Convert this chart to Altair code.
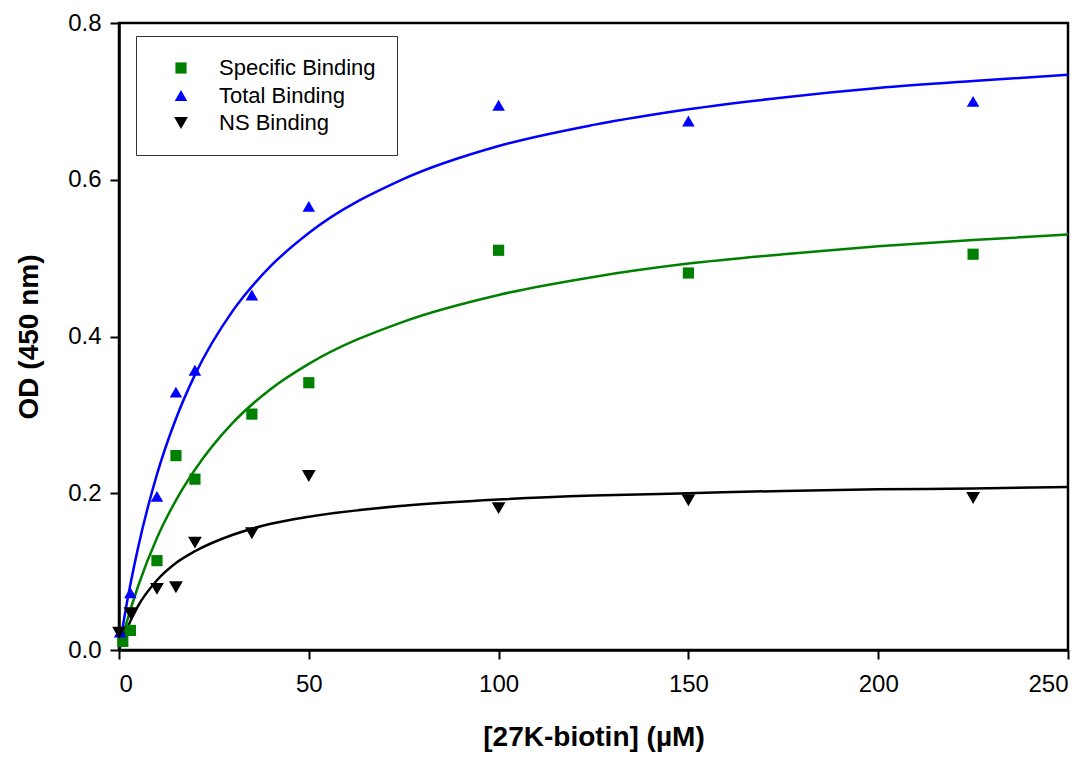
import altair as alt
import pandas as pd

series_names = ["Specific Binding", "Total Binding", "NS Binding"]
series_colors = ["#008000", "#0000ff", "#000000"]
series_shapes = ["square", "triangle-up", "triangle-down"]
series_sizes = [125, 190, 190]

# measured points
spec_x = [1, 3, 10, 15, 20, 35, 50, 100, 150, 225]
spec_y = [0.011, 0.025, 0.114, 0.248, 0.218, 0.301, 0.341, 0.510, 0.481, 0.505]
total_x = [0.3, 3, 10, 15, 20, 35, 50, 100, 150, 225]
total_y = [0.023, 0.073, 0.196, 0.329, 0.357, 0.453, 0.566, 0.695, 0.675, 0.700]
ns_x = [0, 3, 10, 15, 20, 35, 50, 100, 150, 225]
ns_y = [0.022, 0.047, 0.078, 0.080, 0.137, 0.149, 0.222, 0.181, 0.191, 0.194]

# fitted curves
curve_x = [0, 2, 5, 10, 15, 20, 30, 40, 50, 75, 100, 125, 150, 175, 200, 225, 250]
spec_curve = [0, 0.035, 0.081, 0.143, 0.191, 0.230, 0.290, 0.333, 0.365, 0.419,
              0.453, 0.476, 0.493, 0.505, 0.515, 0.523, 0.530]
total_curve = [0, 0.058, 0.130, 0.224, 0.295, 0.351, 0.433, 0.490, 0.532, 0.601,
               0.643, 0.670, 0.690, 0.705, 0.717, 0.726, 0.734]
ns_curve = [0, 0.026, 0.056, 0.089, 0.111, 0.126, 0.147, 0.161, 0.170, 0.184,
            0.192, 0.197, 0.200, 0.203, 0.205, 0.206, 0.208]

x_ticks = [0, 50, 100, 150, 200, 250]
y_ticks = [0.0, 0.2, 0.4, 0.6, 0.8]

pts = pd.concat([
    pd.DataFrame({"x": spec_x, "y": spec_y, "series": series_names[0]}),
    pd.DataFrame({"x": total_x, "y": total_y, "series": series_names[1]}),
    pd.DataFrame({"x": ns_x, "y": ns_y, "series": series_names[2]}),
])

FONT = "Liberation Sans"

x_enc = alt.X("x:Q", scale=alt.Scale(domain=[0, 250], nice=False),
              axis=alt.Axis(values=x_ticks, title="[27K-biotin] (\u00b5M)", format="d",
                            labelFontSize=24, labelPadding=13, titlePadding=27))
y_enc = alt.Y("y:Q", scale=alt.Scale(domain=[0, 0.8], nice=False),
              axis=alt.Axis(values=y_ticks, title="OD (450 nm)", format=".1f",
                            labelFontSize=24, labelPadding=9, titlePadding=24))

line_layers = []
for cy, col in zip([spec_curve, total_curve, ns_curve], series_colors):
    df = pd.DataFrame({"x": curve_x, "y": cy})
    line_layers.append(
        alt.Chart(df).mark_line(strokeWidth=2.5, interpolate="monotone", color=col)
        .encode(x=x_enc, y=y_enc)
    )

points = alt.Chart(pts).mark_point(filled=True, opacity=1, strokeWidth=0).encode(
    x=x_enc, y=y_enc,
    color=alt.Color("series:N", scale=alt.Scale(domain=series_names, range=series_colors),
                    title=None, sort=series_names),
    shape=alt.Shape("series:N", scale=alt.Scale(domain=series_names, range=series_shapes),
                    title=None, sort=series_names),
    size=alt.Size("series:N", scale=alt.Scale(domain=series_names, range=series_sizes),
                  title=None, sort=series_names),
)

chart = alt.layer(*line_layers, points).properties(
    width=949, height=627,
    autosize=alt.AutoSizeParams(type="none"),
    padding={"left": 119, "top": 23, "right": 21, "bottom": 107},
    background="white",
).configure_view(
    stroke="black", strokeWidth=2.5,
).configure_axis(
    grid=False,
    domainColor="black", domainWidth=2.5,
    tickColor="black", tickWidth=2, tickSize=9,
    labelFont=FONT, labelColor="black",
    titleFont=FONT, titleFontSize=28, titleFontWeight="bold", titleColor="black",
).configure_legend(
    orient="none", legendX=17, legendY=13,
    strokeColor="#333333", strokeWidth=1, fillColor="white",
    padding=21, rowPadding=5.5,
    labelFont=FONT, labelFontSize=22, labelColor="black",
    symbolOffset=13, labelOffset=27, symbolStrokeWidth=0,
)

chart.save("out.html", embed_options={"renderer": "svg", "actions": False})
